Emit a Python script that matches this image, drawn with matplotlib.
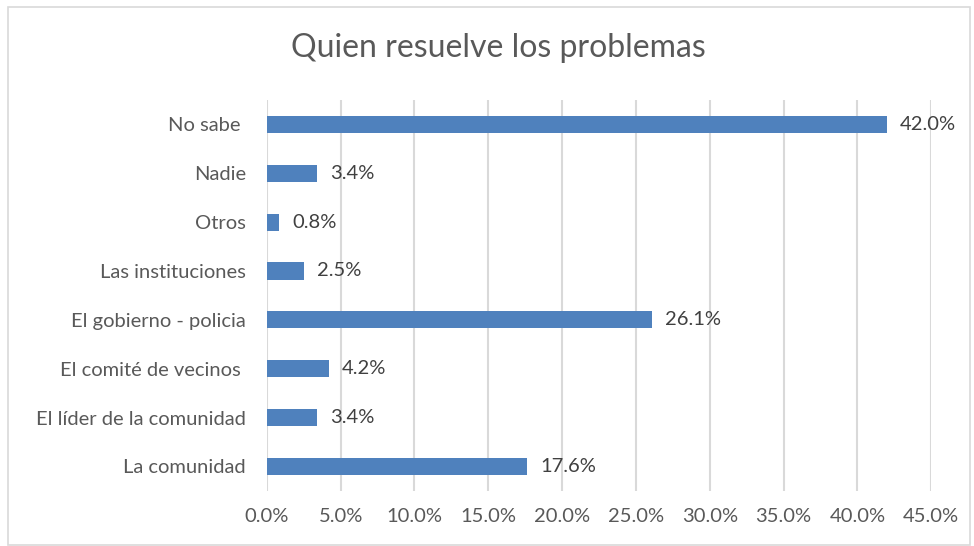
import matplotlib.pyplot as plt
from matplotlib.patches import Rectangle

# Data (bottom to top, as drawn)
categories = ["La comunidad", "El líder de la comunidad", "El comité de vecinos ",
              "El gobierno - policia", "Las instituciones", "Otros", "Nadie", "No sabe "]
values = [17.6, 3.4, 4.2, 26.1, 2.5, 0.8, 3.4, 42.0]
xticks = [0, 5, 10, 15, 20, 25, 30, 35, 40, 45]

plt.rcParams["font.family"] = ["Lato", "DejaVu Sans"]

fig = plt.figure(figsize=(9.74, 5.46), dpi=100)
ax = fig.add_axes([0.274, 0.101, 0.682, 0.716])

ypos = range(len(categories))
ax.barh(ypos, values, height=0.35, color="#4F81BD", zorder=3)

for y, v in zip(ypos, values):
    ax.text(v + 0.9, y, f"{v:.1f}%", va="center", ha="left",
            fontsize=14.5, color="#404040")

ax.set_xlim(0, 45)
ax.set_ylim(-0.5, 7.5)
ax.set_xticks(xticks)
ax.set_xticklabels([f"{t:.1f}%" for t in xticks], fontsize=14.5, color="#595959")
ax.set_yticks(list(ypos))
ax.set_yticklabels(categories, fontsize=14.5, color="#595959")
ax.tick_params(length=0)
ax.tick_params(axis="y", pad=15)
ax.tick_params(axis="x", pad=12)

ax.grid(axis="x", color="#D9D9D9", linewidth=1.5, zorder=0)
for s in ax.spines.values():
    s.set_visible(False)

fig.text(0.512, 0.912, "Quien resuelve los problemas", ha="center", va="center",
         fontsize=23, color="#595959")

# outer chart border
fig.patches.append(Rectangle((8 / 974, 0.002), 962 / 974, 1 - 7 / 546 - 0.002,
                             transform=fig.transFigure, fill=False,
                             edgecolor="#D9D9D9", linewidth=1.2))

fig.savefig("out.png", dpi=100)
